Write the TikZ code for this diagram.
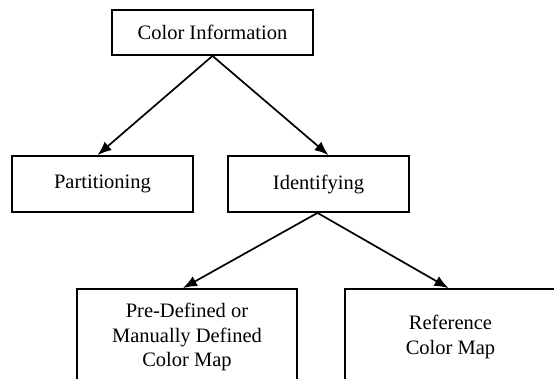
\documentclass[tikz,border=0pt]{standalone}
\usepackage{fontspec}
\setmainfont{Liberation Serif}
\usetikzlibrary{arrows.meta}
\begin{document}
\begin{tikzpicture}[x=1pt,y=-1pt,
  box/.style={draw, line width=1.8pt, rectangle, inner sep=0pt, align=center,
    font=\fontsize{20.5}{24.5}\selectfont},
  arr/.style={line width=1.7pt, -{Latex[length=14pt,width=11pt]}}]
\useasboundingbox (0,0) rectangle (554,378);
\clip (0,0) rectangle (554,378);
\node[box, minimum width=201, minimum height=45] (ci) at (212.5,32.5) {Color Information};
\node[box, minimum width=181, minimum height=56] (part) at (102.5,184) {\raisebox{3pt}{Partitioning}};
\node[box, minimum width=181, minimum height=56] (ident) at (318.5,184) {\raisebox{3pt}{Identifying}};
\node[box, minimum width=220, minimum height=96] (pre) at (187,337) {Pre-Defined or\\Manually Defined\\Color Map};
\node[box, minimum width=211, minimum height=96] (ref) at (450.5,337) {Reference\\Color Map};
\draw[arr] (ci.south) -- ([xshift=-5pt]part.north);
\draw[arr] (ci.south) -- ([xshift=10pt]ident.north);
\draw[arr] ([xshift=-1pt]ident.south) -- ([xshift=-4pt]pre.north);
\draw[arr] ([xshift=-1pt]ident.south) -- ([xshift=-2pt]ref.north);
\end{tikzpicture}
\end{document}
